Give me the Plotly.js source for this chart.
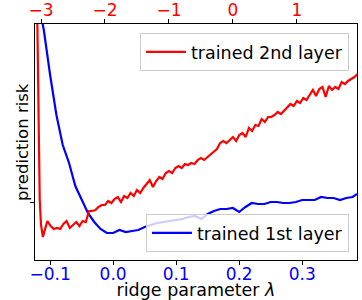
<!DOCTYPE html>
<html>
<head>
<meta charset="utf-8">
<script src="https://cdn.plot.ly/plotly-3.0.1.min.js"></script>
<style>html,body{margin:0;padding:0;background:#fff;}#chart{width:362px;height:300px;}</style>
</head>
<body>
<div id="chart"></div>
<script>
// trained 2nd layer (top axis)
var lambda2nd = [-3.06,-3.04,-3.02,-3.00,-2.97,-2.95,-2.90,-2.85,-2.80,-2.75,-2.70,-2.65,-2.60,-2.55,-2.50,-2.45,-2.40,-2.35,-2.30,-2.25,-2.20,-2.15,-2.10,-2.05,-2.00,-1.95,-1.90,-1.85,-1.80,-1.75,-1.70,-1.65,-1.60,-1.55,-1.50,-1.45,-1.40,-1.35,-1.30,-1.25,-1.20,-1.15,-1.10,-1.05,-1.00,-0.95,-0.90,-0.85,-0.80,-0.75,-0.70,-0.65,-0.60,-0.55,-0.50,-0.45,-0.40,-0.35,-0.30,-0.25,-0.20,-0.15,-0.10,-0.05,0.00,0.05,0.10,0.15,0.20,0.25,0.30,0.35,0.40,0.45,0.50,0.55,0.60,0.65,0.70,0.75,0.80,0.85,0.90,0.95,1.00,1.05,1.10,1.15,1.20,1.25,1.30,1.35,1.40,1.45,1.50,1.55,1.60,1.65,1.70,1.75,1.80,1.85,1.90,1.95];
var risk2nd = [2.50,1.40,0.60,0.35,0.23,0.28,0.39,0.34,0.31,0.32,0.31,0.36,0.39,0.32,0.35,0.38,0.34,0.39,0.38,0.49,0.49,0.50,0.53,0.55,0.55,0.59,0.57,0.61,0.63,0.58,0.64,0.62,0.67,0.64,0.70,0.67,0.72,0.76,0.80,0.73,0.79,0.83,0.81,0.87,0.89,0.87,0.92,0.94,0.92,0.96,0.95,0.97,0.96,1.00,1.02,1.00,1.03,1.06,1.08,1.11,1.17,1.19,1.17,1.20,1.23,1.19,1.25,1.27,1.23,1.32,1.29,1.35,1.34,1.41,1.38,1.43,1.43,1.45,1.48,1.46,1.49,1.52,1.56,1.54,1.59,1.57,1.62,1.60,1.65,1.70,1.64,1.71,1.73,1.63,1.74,1.70,1.73,1.71,1.78,1.76,1.79,1.81,1.83,1.86];
// trained 1st layer (bottom axis)
var lambda1st = [-0.113,-0.11,-0.10,-0.09,-0.08,-0.07,-0.06,-0.05,-0.04,-0.03,-0.02,-0.01,0.00,0.01,0.02,0.03,0.04,0.05,0.06,0.07,0.08,0.09,0.10,0.11,0.12,0.13,0.14,0.15,0.16,0.17,0.18,0.19,0.20,0.21,0.22,0.23,0.24,0.25,0.26,0.27,0.28,0.29,0.30,0.31,0.32,0.33,0.34,0.35,0.36,0.37,0.38,0.387];
var risk1st = [2.40,2.30,1.85,1.45,1.15,0.97,0.74,0.60,0.47,0.38,0.31,0.27,0.27,0.30,0.28,0.29,0.30,0.33,0.35,0.37,0.38,0.39,0.40,0.41,0.43,0.44,0.41,0.46,0.49,0.51,0.51,0.52,0.48,0.53,0.57,0.56,0.56,0.58,0.58,0.57,0.57,0.58,0.60,0.60,0.60,0.63,0.62,0.62,0.60,0.62,0.63,0.66];
var bottomTicks = [-0.1, 0.0, 0.1, 0.2, 0.3];
var topTicks = [-3, -2, -1, 0, 1];

var font = 'DejaVu Sans, sans-serif';
var traces = [
  {x: lambda2nd, y: risk2nd, xaxis: 'x2', yaxis: 'y', mode: 'lines', name: 'trained 2nd layer',
   line: {color: '#ff0000', width: 2.2}, legend: 'legend'},
  {x: lambda1st, y: risk1st, xaxis: 'x', yaxis: 'y', mode: 'lines', name: 'trained 1st layer',
   line: {color: '#0000ff', width: 2.2}, legend: 'legend2'}
];
var legendStyle = {bgcolor: 'rgba(255,255,255,0.8)', bordercolor: '#cccccc', borderwidth: 1,
  font: {size: 17.5}, itemwidth: 40};
var layout = {
  width: 362, height: 300,
  margin: {l: 35, r: 5, t: 24, b: 40},
  paper_bgcolor: '#fff', plot_bgcolor: '#fff',
  font: {family: font, size: 17, color: '#000'},
  xaxis: {range: [-0.124, 0.387], tickvals: bottomTicks, tickformat: '.1f',
    tickfont: {color: '#0000ff', size: 17}, showline: true, linecolor: '#000', linewidth: 1,
    ticks: 'outside', ticklen: 4, tickcolor: '#000', showgrid: false, zeroline: false,
    ticklabelstandoff: -5,
    automargin: false, title: {text: 'ridge parameter <i>λ</i>', standoff: 2, font: {size: 17.5}}},
  xaxis2: {range: [-3.094, 1.94], tickvals: topTicks, overlaying: 'x', side: 'top', anchor: 'y',
    tickfont: {color: '#ff0000', size: 17}, showline: true, linecolor: '#000', linewidth: 1,
    ticks: 'outside', ticklen: 4, tickcolor: '#000', showgrid: false, zeroline: false,
    ticklabelstandoff: -4, automargin: false},
  yaxis: {range: [0, 2.36], tickvals: [0.58], showticklabels: false, showline: true, mirror: true,
    linecolor: '#000', linewidth: 1, ticks: 'outside', ticklen: 4, tickcolor: '#000',
    showgrid: false, zeroline: false, automargin: false},
  annotations: [{text: 'prediction risk', xref: 'paper', yref: 'paper', x: -0.04, y: 0.5,
    xanchor: 'center', yanchor: 'middle', textangle: -90, showarrow: false,
    font: {size: 16.5, color: '#000'}}],
  showlegend: true,
  legend: Object.assign({x: 0.975, xanchor: 'right', y: 0.962, yanchor: 'top'}, legendStyle),
  legend2: Object.assign({x: 0.975, xanchor: 'right', y: 0.034, yanchor: 'bottom'}, legendStyle)
};
Plotly.newPlot('chart', traces, layout, {displayModeBar: false, staticPlot: true});
</script>
</body>
</html>
